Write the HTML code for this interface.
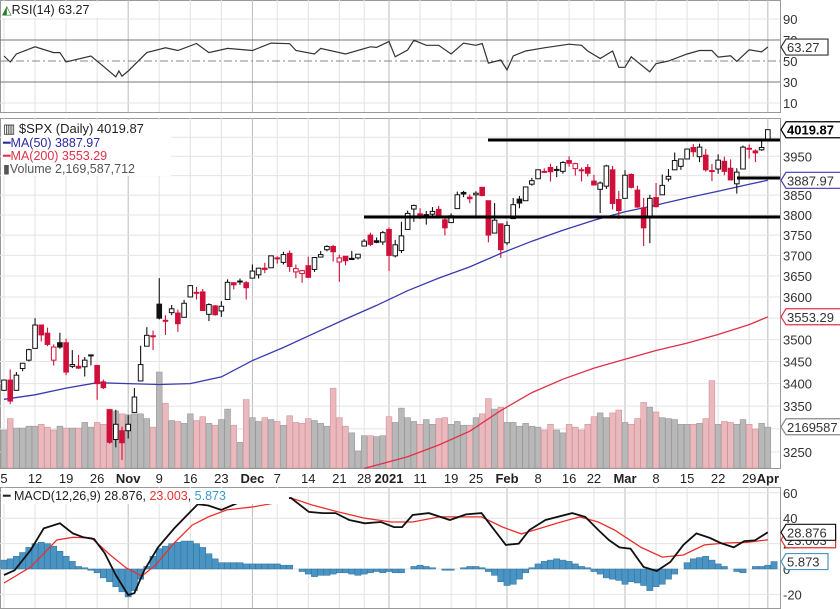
<!DOCTYPE html>
<html><head><meta charset="utf-8">
<style>
html,body{margin:0;padding:0;background:#fff;}
svg{display:block;font-family:"Liberation Sans",sans-serif;}
</style></head>
<body>
<svg id="chart" width="840" height="609" viewBox="0 0 840 609" xmlns="http://www.w3.org/2000/svg">
<rect x="0" y="0" width="840" height="609" fill="#fff"/>
<g id="grid"></g>
<g id="volume"></g>
<g id="mas"></g>
<g id="candles"></g>
<g id="annot"></g>
<g id="rsi"></g>
<g id="macd"></g>
<g id="axes"></g>
<g id="legend"></g>
</svg>
<script>
const closes=[3408,3361,3419,3446,3477,3534,3511,3489,3483,3483,3426,3443,3435,3453,3465,3400,3391,3271,3310,3270,3310,3370,3443,3510,3509,3550,3545,3572,3537,3585,3627,3610,3568,3582,3558,3578,3635,3629,3638,3622,3662,3669,3666,3699,3692,3702,3673,3668,3663,3647,3695,3702,3722,3709,3694,3687,3690,3703,3735,3727,3732,3756,3700,3726,3748,3804,3824,3799,3801,3809,3795,3768,3798,3851,3853,3841,3855,3849,3750,3787,3714,3774,3826,3830,3871,3887,3915,3911,3910,3916,3934,3932,3931,3913,3906,3876,3881,3925,3829,3811,3901,3870,3820,3768,3842,3821,3875,3898,3939,3943,3969,3962,3974,3915,3913,3940,3911,3889,3909,3974,3971,3959,3973,4020];
const opens=[3385,3408,3385,3434,3453,3480,3534,3515,3453,3493,3493,3439,3439,3438,3464,3441,3404,3342,3277,3296,3296,3336,3406,3485,3508,3583,3543,3563,3562,3552,3600,3611,3612,3559,3579,3567,3594,3634,3638,3634,3645,3653,3669,3670,3694,3683,3705,3660,3656,3675,3666,3696,3714,3722,3684,3698,3693,3694,3723,3750,3736,3733,3764,3699,3712,3764,3815,3803,3801,3802,3814,3788,3781,3816,3857,3845,3851,3870,3836,3755,3778,3731,3791,3840,3836,3878,3892,3910,3921,3916,3911,3939,3918,3915,3921,3886,3865,3873,3915,3839,3842,3903,3863,3818,3793,3844,3851,3891,3915,3924,3943,3973,3949,3953,3913,3917,3937,3919,3879,3917,3969,3964,3967,3992];
const highs=[3409,3432,3426,3447,3479,3550,3534,3528,3489,3516,3502,3476,3465,3460,3466,3441,3409,3342,3342,3305,3330,3390,3486,3529,3521,3645,3557,3581,3570,3593,3628,3624,3619,3585,3581,3590,3642,3635,3644,3638,3678,3670,3682,3699,3698,3709,3712,3678,3665,3697,3695,3711,3725,3726,3702,3698,3711,3703,3740,3756,3744,3760,3769,3738,3783,3811,3826,3817,3810,3820,3823,3795,3804,3859,3861,3852,3860,3870,3836,3830,3778,3784,3843,3848,3872,3894,3915,3919,3931,3925,3937,3950,3933,3921,3930,3902,3885,3928,3925,3861,3914,3906,3874,3843,3851,3881,3903,3917,3960,3944,3970,3982,3983,3969,3930,3955,3949,3942,3919,3978,3981,3968,3994,4020];
const lows=[3384,3354,3384,3428,3450,3480,3496,3485,3441,3479,3419,3435,3433,3416,3441,3364,3388,3268,3260,3233,3279,3336,3405,3485,3476,3547,3511,3557,3518,3552,3600,3594,3567,3543,3556,3553,3594,3618,3629,3594,3645,3644,3657,3670,3680,3678,3660,3645,3634,3645,3660,3695,3710,3685,3636,3676,3689,3690,3723,3723,3730,3726,3662,3695,3706,3764,3783,3790,3776,3792,3792,3749,3780,3816,3845,3830,3797,3847,3732,3755,3694,3725,3791,3817,3836,3874,3892,3907,3885,3896,3905,3923,3900,3885,3898,3875,3805,3866,3814,3790,3842,3867,3818,3723,3730,3819,3851,3885,3915,3915,3943,3949,3935,3910,3886,3905,3901,3889,3854,3917,3944,3935,3964,3992];
const volumes=[2.0,2.6,2.1,2.1,2.2,2.2,2.3,2.15,2.0,2.2,2.1,2.1,2.1,2.4,2.15,2.4,2.3,3.1,3.0,2.85,2.8,2.85,2.85,2.6,2.15,5.05,3.4,2.5,2.45,2.35,2.85,2.5,2.7,2.35,2.25,2.55,3.1,2.25,1.35,3.6,2.65,2.45,2.65,2.55,2.45,2.25,2.75,2.4,2.35,2.6,2.5,2.35,2.2,4.2,2.65,2.2,1.85,0.9,1.7,1.7,1.65,1.7,2.7,2.4,3.15,2.65,2.45,2.3,2.55,2.3,2.6,2.65,2.3,2.45,2.25,2.25,2.65,2.85,3.65,3.1,3.2,2.4,2.4,2.2,2.35,2.2,2.15,2.0,2.3,2.0,1.85,2.3,2.15,2.0,2.3,2.7,2.9,2.65,2.9,3.05,2.4,2.3,2.6,3.45,3.2,2.95,2.65,2.6,2.55,2.3,2.3,2.3,2.35,2.6,4.6,2.3,2.45,2.4,2.3,2.55,2.3,2.05,2.35,2.15];
const ma50Days=[0,5,10,15,20,25,30,35,40,45,50,55,60,65,70,75,80,85,90,95,100,105,110,115,120,123];
const ma50Vals=[3365,3375,3390,3402,3400,3398,3400,3415,3452,3482,3515,3548,3580,3615,3645,3672,3705,3735,3762,3787,3808,3825,3843,3860,3878,3888];
const ma200Days=[58,60,65,70,75,80,85,90,95,100,105,110,115,120,123];
const ma200Vals=[3215,3222,3240,3265,3295,3340,3380,3410,3435,3455,3475,3492,3512,3535,3553];
const rsiDays=[0,1,2,5,8,9,10,14,16,18,18.5,19,20,23,26,28,31,33,36,40,43,46,47,50,51,55,59,60,62,63,65,66,68,70,72,74,76,77,78,80,81,82,84,87,91,93,94,96,98,99,100,101,104,105,107,110,112,114,115,117,118,120,122,123];
const rsiVals=[54.8,49,56.7,63.5,58,58,49,54.8,45,35,40.5,35.5,40.5,58,62.6,60,66.7,58,62,60,67,66.5,60,56.7,62,56.7,63.5,63,68.6,54,60.5,69.7,65,65,56.7,67,65,66.7,48,51,41.4,54.8,59.5,62.6,66,65,59.5,52.4,59.5,44,44,54,39.6,47.4,50,56.7,60,60,53.7,55,49.6,60.7,58.7,63.3];
const macdDays=[0,1.7,4.3,6.4,9,11.1,12.8,14.5,16.2,18,20,21,22.6,24.8,27.4,29.5,31.2,32.9,35,37.6,40.2,46.2,49.1,51.3,53.4,55.6,58.1,60.7,62.8,64.1,65.8,68.4,71.8,74.4,76.9,78.6,80.8,82.9,84.6,87.2,91.5,93.6,95.7,97.4,99.1,100.9,103,105.1,107.3,109.4,111.5,113.7,115.4,117.5,119.2,120.9,123];
const macdVals=[-4.7,-1,15,32,36,28,25,23.6,12.6,-4.7,-20.5,-19,-1,17,32,42.5,51,50,46.5,52,52,56,45,44,44,38.6,36,37,33,33,42.5,44,38.6,43,44,33,19,20,30.7,38.6,44,41,30.7,22.8,17,16,1.6,-1.6,5.5,19,28,24.4,20.5,17,22,22.5,28.9];
const sigDays=[0,4.3,8.5,11.1,14.1,17.1,19.7,22.2,24.4,27.4,30.3,32.9,35.9,40.2,43.6,46.2,49.6,53.8,58.1,62.4,65.8,70.1,73.5,76.9,80.3,83.3,86.3,89.7,92.7,95.7,98.3,102.6,106,109.4,112.8,116.2,119.7,123];
const sigVals=[-11,1.6,22.8,25,24.4,11,0.8,-5.5,3,20.5,34.6,41,46.5,49,52,56,50.4,45,40,37,37,41,41,41,33,27.6,32,37,41,37,30.7,17,9.4,11,19,20.5,21,23];
const histVals=[7,8,10,13,17,20,21,20,18,14,10,6,2,1,-1,-3,-7,-10,-14,-18,-22,-17,-8,2,10,16,18,20,21,22,22,20,17,12,8,5,5,5,5,4,4,4,4,4,4,3,3,0,-2,-4,-6,-5,-5,-4,-3,-3,-4,-5,-4,-3,-2,-3,-2,-3,-3,0,2,3,2,1,0,-1,-1,0,1,2,2,1,-2,-5,-10,-13,-12,-8,-3,1,4,6,7,8,7,6,4,2,1,-2,-4,-7,-8,-9,-12,-10,-11,-13,-17,-14,-12,-8,-4,0,5,8,9,10,7,4,2,0,-2,-3,0,2,2,3,5.873];
const priceTicks=[4000,3950,3900,3850,3800,3750,3700,3650,3600,3550,3500,3450,3400,3350,3300,3250];
const rsiTicks=[90,70,50,30,10];
const macdTicks=[60,40,20,0,-20];
const dateLabels=["5","12","19","26","Nov","9","16","23","Dec","7","14","21","28","2021","11","19","25","Feb","8","16","22","Mar","8","15","22","29","Apr"];
const dateIdx=[0,5,10,15,20,25,30,35,40,44,49,54,58,62,67,72,76,81,86,91,95,100,105,110,115,120,123];
const monthLabels=["Nov","Dec","2021","Feb","Mar","Apr"];

const NS="http://www.w3.org/2000/svg";
const RIGHT=780;
const xS=i=>4+i*6.21;
const yP=v=>215-1516*Math.log(v/3800);
const yR=v=>61-(v-50)*1.05;
const yM=v=>569-v*1.27;
const yV=v=>468-v*19;
function mk(parent,tag,attrs,text){const e=document.createElementNS(NS,tag);for(const k in attrs)e.setAttribute(k,attrs[k]);if(text!==undefined)e.textContent=text;document.getElementById(parent).appendChild(e);return e;}
function poly(days,vals,fx,fy){return days.map((d,i)=>fx(d).toFixed(1)+","+fy(vals[i]).toFixed(1)).join(" ");}

const panels=[[0,0,112],[1,118,468],[2,487,608]];
panels.forEach(p=>{
  const r=mk('grid','rect',{x:0.5,y:p[1]+0.5,width:RIGHT,height:p[2]-p[1],fill:'none',stroke:'#999'});
  
  
  dateIdx.forEach((d,k)=>{
    const isM=monthLabels.includes(dateLabels[k]);
    const l=mk('grid','line',{x1:xS(d),x2:xS(d),y1:p[1],y2:p[2],stroke:isM?'#bbb':'#e2e2e2'});
    
    
  });
});
priceTicks.forEach(t=>{
  const l=mk('grid','line',{x1:0,x2:RIGHT,y1:yP(t),y2:yP(t),stroke:'#e4e4e4'});
  
  
  if(t!==4000 && t!==3900){
  const tx=mk('axes','text',{x:783,y:yP(t)+5,'font-size':13,fill:'#333'},String(t));
  
  }
});
rsiTicks.forEach(t=>{
  const main=(t===70||t===30);
  const l=mk('grid','line',{x1:0,x2:RIGHT,y1:yR(t),y2:yR(t),stroke:main?'#777':(t===50?'#888':'#e4e4e4'),'stroke-dasharray':t===50?'8,3,2,3':'none'});
  
  
  const tx=mk('axes','text',{x:783,y:yR(t)+5,'font-size':13,fill:'#333'},String(t));
  
  
});
macdTicks.forEach(t=>{
  const l=mk('grid','line',{x1:0,x2:RIGHT,y1:yM(t),y2:yM(t),stroke:'#e4e4e4'});
  
  
  const tx=mk('axes','text',{x:783,y:yM(t)+5,'font-size':13,fill:'#333'},String(t));
  
  
});
dateIdx.forEach((d,k)=>{
  const isM=monthLabels.includes(dateLabels[k]);
  const tx=mk('axes','text',{x:xS(d),y:483,'font-size':13,'text-anchor':'middle','font-weight':isM?'bold':'normal',fill:'#222'},dateLabels[k]);
  
  
});

volumes.forEach((v,i)=>{
  const down=i>0&&closes[i]<closes[i-1];
  const r=mk('volume','rect',{x:xS(i)-2.9,y:yV(v),width:5.8,height:468-yV(v),fill:down?'#e9b9bd':'#b8b8b8',stroke:down?'#d4939a':'#999','stroke-width':0.6});
  
  
});

const m50=mk('mas','polyline',{points:poly(ma50Days,ma50Vals,xS,yP),fill:'none',stroke:'#3a3ab0','stroke-width':1.3});


const m200=mk('mas','polyline',{points:poly(ma200Days,ma200Vals,xS,yP),fill:'none',stroke:'#e0304a','stroke-width':1.3});



closes.forEach((c,i)=>{
  const o=opens[i];
  const col=(i===0||c>=closes[i-1])?'#111':'#d0103a';
  const x=xS(i);
  const w=mk('candles','line',{x1:x,x2:x,y1:yP(highs[i]),y2:yP(lows[i]),stroke:col,'stroke-width':1.1});
  
  
  const top=yP(Math.max(o,c)),bot=yP(Math.min(o,c));
  const b=mk('candles','rect',{x:x-2.3,y:top,width:4.6,height:Math.max(1,bot-top),fill:c>o?'#fff':col,stroke:col,'stroke-width':1});
  
  
});

[[488,140],[364,217],[737,178]].forEach(a=>{
  const l=mk('annot','line',{x1:a[0],x2:RIGHT,y1:a[1],y2:a[1],stroke:'#000','stroke-width':3});
  
  
});

const rl=mk('rsi','polyline',{points:poly(rsiDays,rsiVals,xS,yR),fill:'none',stroke:'#333','stroke-width':1.2});



histVals.forEach((h,i)=>{
  const y0=yM(0),y1=yM(h);
  const r=mk('macd','rect',{x:xS(i)-3.1,y:Math.min(y0,y1),width:6.2,height:Math.abs(y1-y0),fill:'#4a94c4',stroke:'#2f6f99','stroke-width':0.5});
  
  
});
const sl=mk('macd','polyline',{points:poly(sigDays,sigVals,xS,yM),fill:'none',stroke:'#e8312e','stroke-width':1.3});


const ml=mk('macd','polyline',{points:poly(macdDays,macdVals,xS,yM),fill:'none',stroke:'#111','stroke-width':1.8});



function tag(y,txt,col,bold,name){
  const g=mk('axes','path',{d:`M${RIGHT+1},${y} l5,-8 h${txt.length*7.6+4} v16 h-${txt.length*7.6+4} z`,fill:'#fff',stroke:col,'stroke-width':1.2});
  
  
  const t=mk('axes','text',{x:RIGHT+7,y:y+5,'font-size':13,fill:bold?'#000':'#333','font-weight':bold?'bold':'normal'},txt);
  
  
}
tag(yR(63.27),"63.27",'#333',false,'rsi-value-tag');
tag(yP(4019.87),"4019.87",'#000',true,'price-value-tag');
tag(yP(3887.97),"3887.97",'#3a3ab0',false,'ma50-value-tag');
tag(yP(3553.29),"3553.29",'#e0304a',false,'ma200-value-tag');
tag(yV(2.17),"2169587",'#888',false,'volume-value-tag');
tag(yM(23.003),"23.003",'#e8312e',false,'signal-value-tag');
tag(yM(28.876),"28.876",'#111',false,'macd-value-tag');
tag(yM(5.873),"5.873",'#4a94c4',false,'hist-value-tag');
</script>
<svg style="position:absolute;left:0;top:0" width="840" height="609">
<g font-family="Liberation Sans, sans-serif" font-size="12.5">
<rect x="1" y="2" width="100" height="16" fill="#fff"/>
<text x="2" y="14" fill="#222"><tspan fill="#2a7a2a">◭</tspan>RSI(14) 63.27</text>
<rect x="1" y="120" width="170" height="56" fill="#fff"/>
<text x="3" y="133" font-size="13" fill="#222">▥ $SPX (Daily) 4019.87</text>
<text x="3" y="147" fill="#2a2aa0">━MA(50) 3887.97</text>
<text x="3" y="160" fill="#e0304a">━MA(200) 3553.29</text>
<text x="3" y="173" fill="#555">▮Volume 2,169,587,712</text>
<rect x="1" y="488" width="288" height="16" fill="#fff"/>
<text x="3" y="500" fill="#222">━ MACD(12,26,9) 28.876, <tspan fill="#e8312e">23.003</tspan>, <tspan fill="#3a9ad0">5.873</tspan></text>
</g>
</svg>
</body></html>
